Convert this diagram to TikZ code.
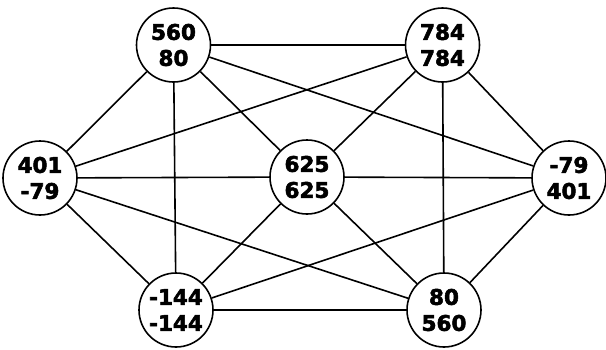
\documentclass[tikz,border=0pt]{standalone}
\usepackage{fontspec}
\setmainfont{DejaVu Sans}
\newfontfamily\heavyfont[FakeBold=2.5]{DejaVu Sans Bold}
\begin{document}
\begin{tikzpicture}[x=1pt,y=1pt,
  nd/.style={circle,draw,line width=1.6pt,fill=white,minimum size=74pt,inner sep=0pt,align=center,
    font=\heavyfont\fontsize{21.5}{26}\selectfont},
  ed/.style={line width=1.6pt}]
\useasboundingbox (0,0) rectangle (606,-349);
\node[nd] (A) at (173.5,-45) {560\\80};
\node[nd] (B) at (442.5,-45) {784\\784};
\node[nd] (C) at (40,-178) {401\\-79};
\node[nd] (D) at (307,-177) {625\\625};
\node[nd] (E) at (569,-178) {-79\\401};
\node[nd] (F) at (176,-310) {-144\\-144};
\node[nd] (G) at (444,-310) {80\\560};
\foreach \a/\b in {A/B,A/C,A/F,A/D,A/E,B/C,B/D,B/E,B/G,C/D,C/F,C/G,D/E,D/F,D/G,E/F,E/G,F/G}
  \draw[ed] (\a) -- (\b);
\end{tikzpicture}
\end{document}
